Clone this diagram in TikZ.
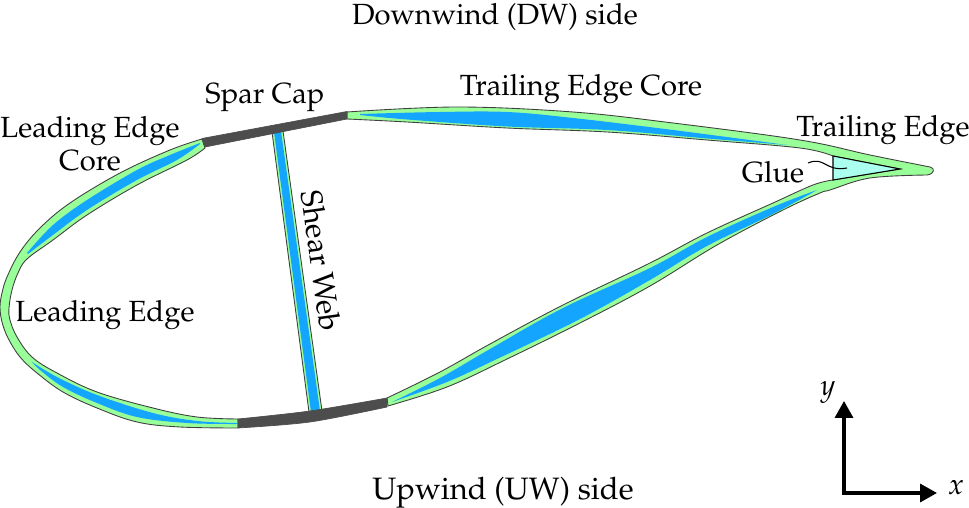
\documentclass[tikz,border=0pt]{standalone}
\usepackage[T1]{fontenc}
\usepackage{mathpazo}
\usetikzlibrary{arrows.meta}
\definecolor{skingreen}{HTML}{99FF99}
\definecolor{coreblue}{HTML}{14A5FF}
\definecolor{sparcap}{HTML}{4D4D4D}
\definecolor{gluecyan}{HTML}{AAFFEE}

\begin{document}
\begin{tikzpicture}[x=0.1mm,y=-0.1mm,
    every node/.style={font=\fontsize{8.3}{9.4}\selectfont,inner sep=0pt,align=center},
    skinfill/.style={fill=skingreen,draw=black!75,line width=0.25pt},
    corefill/.style={fill=coreblue},
    sparfill/.style={fill=sparcap,draw=sparcap,line width=0.2pt},
    smoothplot/.style={smooth,tension=0.6}]
  \useasboundingbox (0,0) rectangle (969,508);

  % outer skin, leading edge and trailing edge with the core panels
  \path[skinfill] plot[smoothplot] coordinates {(202,139) (170,150) (120,173) (70,203) (40,228) (20,252) (7,277) (2,293) (0,307) (2,322) (8,338) (20,357) (37,373) (63,392) (97,408) (137,422) (180,427) (238,428)}
    -- (238,419) -- plot[smoothplot] coordinates {(238,419) (197,417) (153,408) (97,392) (57,373) (32,357) (17,337) (10,320) (9,308) (12,290) (18,273) (27,259) (53,240) (87,215) (137,185) (187,160) (205,148)} -- cycle;
  \path[skinfill] plot[smoothplot] coordinates {(347,112) (457,107) (573,112) (673,123) (800,140) (870,155) (930,167)}
    .. controls (935,168) and (935,174) .. (927,175)
    -- plot[smoothplot] coordinates {(927,175) (870,178) (830,190) (820,193) (783,210) (717,245) (650,286) (580,323) (505,360) (447,387) (388,406)}
    -- (387,398) -- plot[smoothplot] coordinates {(387,398) (440,372) (490,344) (563,305) (650,263) (707,233) (773,203) (813,185) (833,180)}
    -- (900,169) -- (833,156)
    -- plot[smoothplot] coordinates {(833,156) (800,148) (707,140) (607,132) (507,128) (407,122) (347,119)} -- cycle;

  % balsa cores
  \fill[corefill] plot[smoothplot] coordinates {(200,143) (170,155) (137,170) (87,200) (53,225) (27,253)}
    -- plot[smoothplot] coordinates {(28,254) (53,235) (87,210) (137,180) (177,160) (200,144)} -- cycle;
  \fill[corefill] plot[smoothplot] coordinates {(32,362) (57,377) (97,395) (153,413) (197,421) (238,423)}
    -- plot[smoothplot] coordinates {(238,424) (187,423) (137,417) (97,403) (63,387) (40,370) (32,362)} -- cycle;
  \fill[corefill] plot[smoothplot] coordinates {(360,114) (440,112) (507,112) (573,118) (673,130) (787,145)}
    -- plot[smoothplot] coordinates {(787,145) (707,138.5) (607,130) (507,126.5) (407,119.5) (360,115)} -- cycle;
  \fill[corefill] plot[smoothplot] coordinates {(392,402) (440,378) (490,349) (563,308) (650,268) (707,237) (773,207) (817,190)}
    -- plot[smoothplot] coordinates {(817,190) (773,214) (707,246) (650,280) (580,319) (497,359) (447,382) (392,402)} -- cycle;

  % shear web and spar caps
  \path[skinfill] (272,132) -- (283,131) -- (322,411) -- (309,412) -- cycle;
  \fill[corefill] (274,132) -- (281,131) -- (320,411) -- (311,412) -- cycle;
  \path[sparfill] (202,138.5) -- (347,111.5) -- (347,119) -- (205,147) -- cycle;
  \path[sparfill] plot[smooth] coordinates {(238,419) (310,411) (387,398)}
    -- plot[smooth] coordinates {(387,407) (310,422) (238,428)} -- cycle;

  % glue at the trailing edge
  \draw[fill=gluecyan,line width=0.3pt] (833,156) -- (900,169) -- (833,180) -- cycle;
  \coordinate (gluestart) at (808,163);
  \coordinate (glueend) at (847,168);
  \node (gluelabel) at (773,172) {Glue};
  \draw[line width=0.3pt] (gluestart) .. controls (825,156) and (825,172) .. (glueend);

  \node (downwind) at (495,17) {Downwind (DW) side};
  \node[font=\fontsize{8.8}{10}\selectfont] (upwind) at (503,493) {Upwind (UW) side};
  \node (tecore) at (581,89) {Trailing Edge Core};
  \node (spar) at (265,98) {Spar Cap};
  \node (lecore) at (90,144) {Leading Edge\\Core};
  \node (te) at (883,130) {Trailing Edge};
  \node (le) at (105,315) {Leading Edge};
  \node[rotate=-82,font=\fontsize{8.6}{10}\selectfont] (web) at (321,261) {Shear Web};

  % axes
  \coordinate (origin) at (844,493);
  \coordinate (axisy) at (844,401);
  \coordinate (axisx) at (937,493);
  \draw[{Triangle[length=4.8pt,width=5.1pt]}-{Triangle[length=4.8pt,width=5.1pt]},line width=0.9pt] (axisy) -- (origin) -- (axisx);
  \node (ylabel) at (828,392) {$y$};
  \node (xlabel) at (956,488) {$x$};
\end{tikzpicture}
\end{document}
